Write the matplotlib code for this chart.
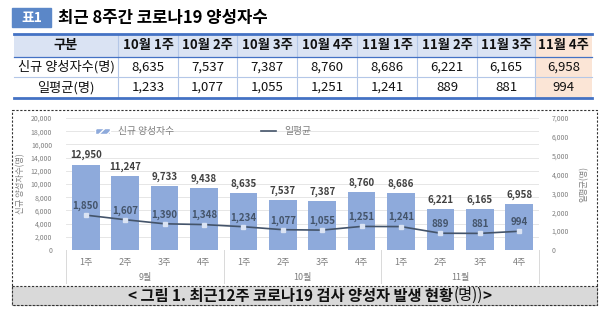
import matplotlib.pyplot as plt
from matplotlib.patches import Rectangle, Patch
from matplotlib.lines import Line2D
import matplotlib.transforms as mtransforms

plt.rcParams['font.family'] = ['Noto Sans CJK KR', 'DejaVu Sans']

# 차트 데이터 (최근 12주)
months = ['9월', '10월', '11월']
weeks = ['1주', '2주', '3주', '4주']
cases = [12950, 11247, 9733, 9438, 8635, 7537, 7387, 8760, 8686, 6221, 6165, 6958]
daily_avg = [1850, 1607, 1390, 1348, 1234, 1077, 1055, 1251, 1241, 889, 881, 994]

# 표 데이터 (최근 8주)
table_cols = ['10월 1주', '10월 2주', '10월 3주', '10월 4주',
              '11월 1주', '11월 2주', '11월 3주', '11월 4주']
table_cases = [8635, 7537, 7387, 8760, 8686, 6221, 6165, 6958]
table_avg = [1233, 1077, 1055, 1251, 1241, 889, 881, 994]

bar_color = '#8eaadb'
line_color = '#44546a'

fig = plt.figure(figsize=(6.09, 3.21), dpi=100)
bg = fig.add_axes([0, 0, 1, 1])
bg.set_xlim(0, 609)
bg.set_ylim(321, 0)
bg.axis('off')

# 제목
bg.add_patch(Rectangle((12, 8), 39, 19, color='#5b87c8'))
bg.text(31.5, 17.5, '표1', color='white', fontsize=10, fontweight='bold', ha='center', va='center')
bg.text(58, 17.5, '최근 8주간 코로나19 양성자수', fontsize=12, fontweight='bold', ha='left', va='center')

# 표
col_x = [14, 118, 178, 237, 297, 357, 417, 477, 535, 592]
row_y = [34, 57, 77, 98]
bg.add_patch(Rectangle((col_x[0], row_y[0]), col_x[-1] - col_x[0], row_y[1] - row_y[0], color='#dae3f3', lw=0))
bg.add_patch(Rectangle((col_x[-2], row_y[0]), col_x[-1] - col_x[-2], row_y[-1] - row_y[0], color='#fbe5d6', lw=0))
for x in col_x[1:-1]:
    bg.plot([x, x], [row_y[0], row_y[-1]], color='#b4c7e7', lw=0.8)
bg.plot([col_x[0], col_x[-1]], [row_y[0]] * 2, color='#4472c4', lw=2)
bg.plot([col_x[0], col_x[-1]], [row_y[1]] * 2, color='#4472c4', lw=0.9)
bg.plot([col_x[0], col_x[-1]], [row_y[2]] * 2, color='#b4c7e7', lw=0.8)
bg.plot([col_x[0], col_x[-1]], [row_y[3]] * 2, color='#4472c4', lw=2)

rows = [['구분'] + table_cols,
        ['신규 양성자수(명)'] + [f'{v:,}' for v in table_cases],
        ['일평균(명)'] + [f'{v:,}' for v in table_avg]]
for r, row in enumerate(rows):
    yc = (row_y[r] + row_y[r + 1]) / 2
    for c, val in enumerate(row):
        xc = (col_x[c] + col_x[c + 1]) / 2
        bg.text(xc, yc, val, ha='center', va='center', fontsize=9.5,
                fontweight='bold' if r == 0 else 'normal', color='#111111')

# 차트 테두리 / 캡션
bg.add_patch(Rectangle((12, 110), 585, 195, fill=False, ec='#333333', lw=0.8, ls=(0, (2, 1.5))))
bg.add_patch(Rectangle((12, 286), 585, 19, fc='#d9d9d9', ec='#333333', lw=0.8, ls=(0, (2, 1.5))))

# 차트
ax = fig.add_axes([66 / 609, (321 - 250) / 321, 473 / 609, 132 / 321])
ax2 = ax.twinx()
x = list(range(len(cases)))
ax.bar(x, cases, width=0.7, color=bar_color, zorder=2)
ax.set_ylim(0, 20000)
ax.set_yticks(range(0, 20001, 2000))
ax.set_yticklabels([f'{v:,}' for v in range(0, 20001, 2000)])
ax.set_xlim(-0.5, len(cases) - 0.5)
ax.grid(axis='y', color='#e6e6e6', lw=0.7, zorder=0)
ax.set_axisbelow(True)
for s in ax.spines.values():
    s.set_visible(False)
for s in ax2.spines.values():
    s.set_visible(False)
ax.tick_params(axis='y', length=0, labelsize=5, labelcolor='#7f7f7f', pad=10)
ax.set_xticks(x)
ax.set_xticklabels([w for m in months for w in weeks])
ax.tick_params(axis='x', length=0, labelsize=6.5, labelcolor='#7f7f7f', pad=6)
ax.set_ylabel('신규 양성자수(명)', fontsize=6, color='#7f7f7f', labelpad=4)

for xi, v in zip(x, cases):
    ax.annotate(f'{v:,}', (xi, v), xytext=(0, 3), textcoords='offset points',
                ha='center', va='bottom', fontsize=7, fontweight='bold', color='#404040')

ax2.plot(x, daily_avg, color=line_color, lw=1.2, marker='s', ms=2.5,
         mfc='#dae3f3', mec='#dae3f3', zorder=3)
ax2.set_ylim(0, 7000)
ax2.set_yticks(range(0, 7001, 1000))
ax2.set_yticklabels([f'{v:,}' for v in range(0, 7001, 1000)])
ax2.tick_params(axis='y', length=0, labelsize=5, labelcolor='#7f7f7f', pad=9)
ax2.set_ylabel('일평균(명)', fontsize=6, color='#7f7f7f', rotation=90, labelpad=8)
for xi, v in zip(x, daily_avg):
    ax2.annotate(f'{v:,}', (xi, v), xytext=(0, 3), textcoords='offset points',
                 ha='center', va='bottom', fontsize=7, fontweight='bold', color=line_color)

# 월 구분
trans = mtransforms.blended_transform_factory(ax.transData, ax.transAxes)
for b in [-0.5, 3.5, 7.5, 11.5]:
    ax.plot([b, b], [0, -0.25], transform=trans, color='#d9d9d9', lw=0.7, clip_on=False)
for i, m in enumerate(months):
    ax.text(i * 4 + 1.5, -0.205, m, transform=trans, ha='center', va='center',
            fontsize=6.5, color='#7f7f7f')

handles = [Patch(facecolor=bar_color, edgecolor='white', hatch='////'),
           Line2D([0], [0], color=line_color, lw=1.2)]
ax.legend(handles, ['신규 양성자수', '일평균'], ncol=2, loc='center',
          bbox_to_anchor=(0.29, 0.9), frameon=False, fontsize=7, labelcolor='#7f7f7f',
          columnspacing=9, handlelength=1.5, handleheight=0.5)

# 캡션 (부분 굵게)
parts = [('< 그림 1. 최근12주 코로나19 검사 양성자 발생 현황', 'bold'), ('(명))', 'normal'), ('>', 'bold')]
renderer = fig.canvas.get_renderer()
texts = []
for s, w in parts:
    t = bg.text(0, 295.5, s, fontsize=11, fontweight=w, ha='left', va='center', color='#111111')
    texts.append(t)
widths = [t.get_window_extent(renderer).width for t in texts]
xpos = 310 - sum(widths) / 2
for t, w in zip(texts, widths):
    t.set_x(xpos)
    xpos += w

fig.savefig('out.png', dpi=100)
